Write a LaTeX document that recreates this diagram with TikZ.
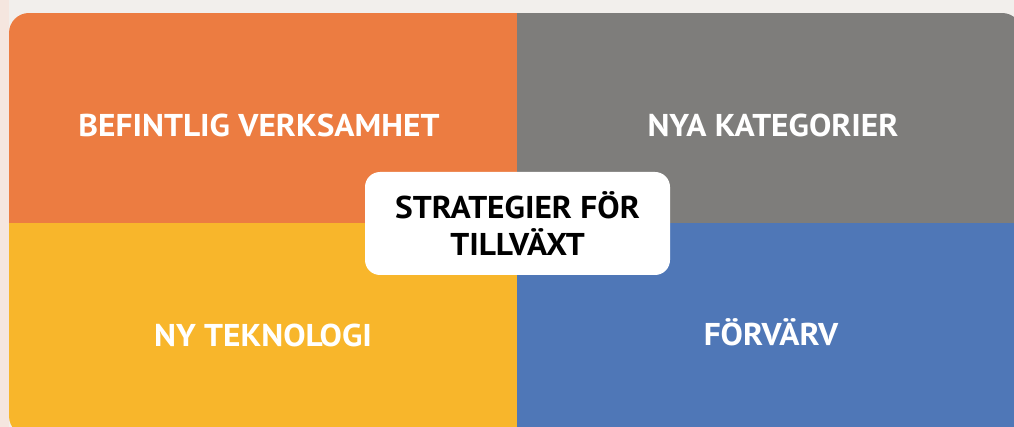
\documentclass[tikz,border=0pt]{standalone}
\usepackage{fontspec}
\setmainfont{PT Sans}
\newfontfamily\dinfont{PT Sans}[FakeStretch=1.06]
\definecolor{bgc}{HTML}{F2EFEC}
\definecolor{bgpink}{HTML}{F5E6DF}
\definecolor{qorange}{HTML}{EC7C41}
\definecolor{qgray}{HTML}{7E7D7B}
\definecolor{qyellow}{HTML}{F8B62B}
\definecolor{qblue}{HTML}{4F77B7}
\tikzset{
  qlabel/.style={text=white, font=\dinfont\bfseries\fontsize{31.5}{36}\selectfont, inner sep=0pt, anchor=center},
  centerbox/.style={fill=white, rounded corners=15pt, minimum width=305pt, minimum height=103pt, inner sep=0pt,
    align=center, font=\dinfont\bfseries\fontsize{31.5}{37}\selectfont, text=black},
}
\begin{document}
\begin{tikzpicture}[x=1pt,y=-1pt]
\useasboundingbox (0,0) rectangle (1014,427);
\fill[bgc] (0,0) rectangle (1014,427);
\fill[bgpink] (0,0) rectangle (9,427);
\begin{scope}
  \clip[rounded corners=20pt] (9,13) rectangle (1022,436);
  \fill[qorange] (9,13) rectangle (517,223);
  \fill[qgray] (517,13) rectangle (1022,223);
  \fill[qyellow] (9,223) rectangle (517,436);
  \fill[qblue] (517,223) rectangle (1022,436);
\end{scope}
\node[qlabel] (bef) at (259,125) {BEFINTLIG VERKSAMHET};
\node[qlabel] (nya) at (773,125) {NYA KATEGORIER};
\node[qlabel] (tek) at (263,335) {NY TEKNOLOGI};
\node[qlabel] (forv) at (771,332) {FÖRVÄRV};
\node[centerbox] (center) at (517.5,223.5) {STRATEGIER FÖR\\TILLVÄXT};
\end{tikzpicture}
\end{document}
